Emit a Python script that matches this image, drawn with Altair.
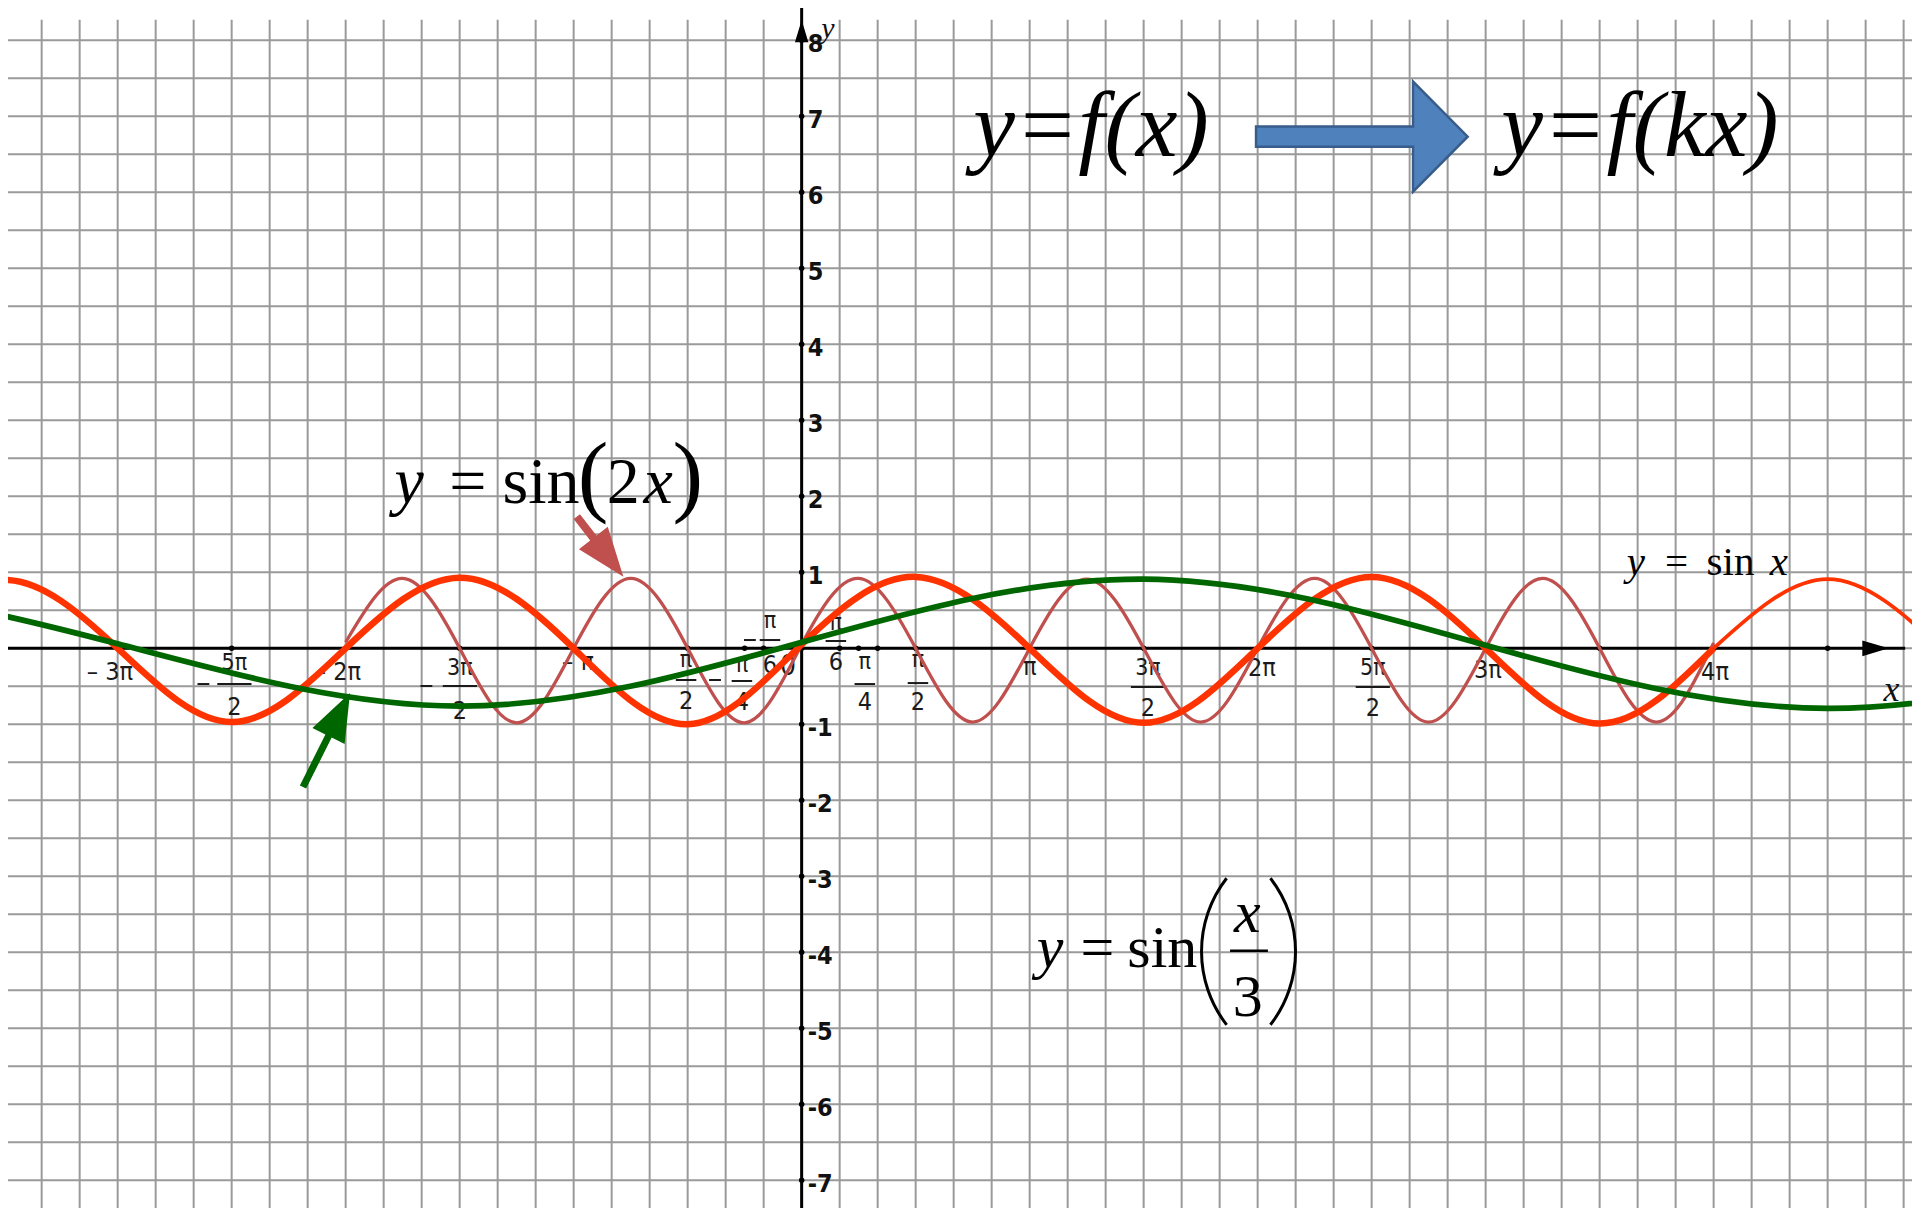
import altair as alt
import pandas as pd

# ---------------- picture frame (x in multiples of pi, y in units) ----------------
X_DOMAIN = [-3.481, 4.870]
Y_DOMAIN = [-7.364, 8.425]
W, H = 1904, 1200

# ---------------- curves ----------------
# y = sin x  (thick up to 4pi, thin after)
sinx_x = [-4, -3.5, -3, -2.5, -2, -1.5, -1, -0.5, 0, 0.5, 1, 1.5, 2, 2.5, 3, 3.5, 4]
sinx_y = [0.0, 0.90, 0.0, -0.97, 0.0, 0.93, 0.0, -1.00, 0.05, 0.94, 0.0, -0.98, 0.0, 0.94, 0.0, -0.99, 0.0]
sinx_tail_x = [4, 4.5, 5]
sinx_tail_y = [0.0, 0.91, 0.0]

# y = sin(2x)  (drawn from -2pi to 4pi)
sin2x_x = [-2, -1.75, -1.5, -1.25, -1, -0.75, -0.5, -0.25, 0, 0.25, 0.5, 0.75, 1,
           1.25, 1.5, 1.75, 2, 2.25, 2.5, 2.75, 3, 3.25, 3.5, 3.75, 4]
sin2x_y = [0.08, 0.92, 0.0, -0.98, 0.0, 0.92, 0.0, -0.98, 0.05, 0.92, 0.0, -0.97, 0.0,
           0.91, 0.0, -0.97, 0.0, 0.92, 0.0, -0.97, 0.0, 0.92, 0.0, -0.97, 0.07]

# y = sin(x/3)
sinx3_x = [-6, -4.5, -3, -1.5, 0, 1.5, 3, 4.5, 6]
sinx3_y = [0.0, 0.80, 0.06, -0.76, 0.08, 0.91, 0.04, -0.79, 0.0]

# ---------------- axis ticks and labels ----------------
y_ticks = [-7, -6, -5, -4, -3, -2, -1, 1, 2, 3, 4, 5, 6, 7, 8]
y_tick_text = [str(v) for v in y_ticks]

x_tick_dots = [-3, -2.5, -2, -1.5, -1, -0.5, -0.25, -1/6, 0, 1/6, 0.25, 1/3, 0.5,
               1, 1.5, 2, 2.5, 3, 3.5, 4, 4.5]

simple_text = ["– 3π", "– 2π", "– π", "π", "2π", "3π", "4π"]
simple_lx = [-3.034, -2.034, -0.981, 1.001, 2.019, 3.010, 4.006]
simple_ly = [-0.307, -0.307, -0.176, -0.241, -0.259, -0.286, -0.307]

frac_num = ["5π", "3π", "π", "π", "π", "π", "3π", "5π", "π", "π"]
frac_den = ["2", "2", "2", "4", "4", "2", "2", "2", "6", "6"]
frac_lx = [-2.488, -1.499, -0.507, -0.262, 0.277, 0.510, 1.519, 2.505, -0.139, 0.150]
frac_num_y = [-0.193, -0.259, -0.154, -0.220, -0.180, -0.154, -0.259, -0.259, 0.359, 0.333]
frac_bar_y = [-0.470, -0.496, -0.417, -0.430, -0.470, -0.457, -0.509, -0.509, 0.109, 0.096]
frac_den_y = [-0.772, -0.825, -0.693, -0.707, -0.707, -0.707, -0.786, -0.786, -0.220, -0.180]
minus_lx = [-2.624, -1.646, -0.380, -0.227]
minus_ly = [-0.470, -0.496, -0.417, 0.109]

# ---------------- formula annotations (data units) ----------------
upright_txt = ["=", "sin", "(", "2", ")", "=", "sin", "=", "sin", "3"]
upright_x = [-1.464, -1.143, -0.915, -0.782, -0.499, 3.837, 4.074, 1.297, 1.582, 1.957]
upright_y = [1.912, 1.912, 1.886, 1.912, 1.886, 0.964, 0.964, -4.19, -4.19, -4.84]
upright_s = [66, 66, 92, 66, 92, 41, 41, 60, 60, 60]

italic_txt = ["y", "x", "y", "x", "y", "x", "y=f(x)", "y=f(kx)"]
italic_x = [-1.722, -0.630, 3.659, 4.286, 1.089, 1.955, 1.269, 3.677]
italic_y = [1.912, 1.912, 0.964, 0.964, -4.19, -3.726, 6.48, 6.48]
italic_s = [66, 66, 41, 41, 60, 60, 94, 94]

XS = alt.Scale(domain=X_DOMAIN, nice=False, zero=False)
YS = alt.Scale(domain=Y_DOMAIN, nice=False, zero=False)


def pos(xf="x", yf="y"):
    return dict(x=alt.X(f"{xf}:Q", scale=XS, axis=None),
                y=alt.Y(f"{yf}:Q", scale=YS, axis=None))


layers = []

# grid
grid_v = pd.DataFrame({"x": [k / 6 for k in range(-20, 30)]})
grid_v["y"] = 8.27
grid_v["y2"] = Y_DOMAIN[0]
layers.append(alt.Chart(grid_v).mark_rule(color="#9a9a9a", strokeWidth=2).encode(
    **pos(), y2="y2:Q"))
grid_h = pd.DataFrame({"y": [k / 2 for k in range(-14, 17)]})
grid_h["x"] = X_DOMAIN[0]
grid_h["x2"] = X_DOMAIN[1]
layers.append(alt.Chart(grid_h).mark_rule(color="#9a9a9a", strokeWidth=2).encode(
    **pos(), x2="x2:Q"))

# axes
axis_x = pd.DataFrame({"x": [X_DOMAIN[0]], "x2": [4.84], "y": [0.0]})
layers.append(alt.Chart(axis_x).mark_rule(color="black", strokeWidth=3).encode(**pos(), x2="x2:Q"))
axis_y = pd.DataFrame({"x": [0.0], "y": [Y_DOMAIN[0]], "y2": [Y_DOMAIN[1]]})
layers.append(alt.Chart(axis_y).mark_rule(color="black", strokeWidth=3).encode(**pos(), y2="y2:Q"))

# axis arrow heads
layers.append(alt.Chart(pd.DataFrame({"x": [4.71], "y": [0.0]})).mark_point(
    shape="M-1,-0.6L1,0L-1,0.6Z", size=700, filled=True, color="black", opacity=1).encode(**pos()))
layers.append(alt.Chart(pd.DataFrame({"x": [0.0], "y": [8.12]})).mark_point(
    shape="M-0.6,1L0,-1L0.6,1Z", size=500, filled=True, color="black", opacity=1).encode(**pos()))

# tick dots
layers.append(alt.Chart(pd.DataFrame({"x": x_tick_dots, "y": 0.0})).mark_point(
    shape="circle", size=30, filled=True, color="black", opacity=1).encode(**pos()))
layers.append(alt.Chart(pd.DataFrame({"x": 0.0, "y": y_ticks})).mark_point(
    shape="circle", size=30, filled=True, color="black", opacity=1).encode(**pos()))

TICK_FONT = "Liberation Sans Narrow, DejaVu Sans Condensed, Arial Narrow, sans-serif"

# y tick labels
layers.append(alt.Chart(pd.DataFrame({"x": 0.0, "y": y_ticks, "t": y_tick_text})).mark_text(
    font=TICK_FONT, fontSize=25, fontWeight="bold", align="left", baseline="middle",
    dx=6, dy=4, color="#111111").encode(**pos(), text="t:N"))
# axis names
layers.append(alt.Chart(pd.DataFrame({"x": [0.115], "y": [8.15], "t": ["y"]})).mark_text(
    font="Liberation Serif", fontStyle="italic", fontSize=30, align="center", baseline="middle",
    color="#111111").encode(**pos(), text="t:N"))
layers.append(alt.Chart(pd.DataFrame({"x": [4.78], "y": [-0.55], "t": ["x"]})).mark_text(
    font="Liberation Serif", fontStyle="italic", fontSize=36, align="center", baseline="middle",
    color="#111111").encode(**pos(), text="t:N"))

# x tick labels (simple)
layers.append(alt.Chart(pd.DataFrame({"x": simple_lx, "y": simple_ly, "t": simple_text})).mark_text(
    font=TICK_FONT, fontSize=25, align="center", baseline="middle", color="#1a1a1a").encode(
    **pos(), text="t:N"))
# fraction labels
frac = pd.DataFrame({"x": frac_lx, "ny": frac_num_y, "by": frac_bar_y, "dy_": frac_den_y,
                     "num": frac_num, "den": frac_den})
frac["hw"] = [0.075 if len(n) > 1 else 0.045 for n in frac_num]
frac["x1"] = frac["x"] - frac["hw"]
frac["x2"] = frac["x"] + frac["hw"]
layers.append(alt.Chart(frac).mark_text(
    font=TICK_FONT, fontSize=23, align="center", baseline="middle", color="#1a1a1a").encode(
    **pos("x", "ny"), text="num:N"))
layers.append(alt.Chart(frac).mark_text(
    font=TICK_FONT, fontSize=25, align="center", baseline="middle", color="#1a1a1a").encode(
    **pos("x", "dy_"), text="den:N"))
layers.append(alt.Chart(frac).mark_rule(color="#1a1a1a", strokeWidth=2).encode(
    **pos("x1", "by"), x2="x2:Q"))
mins = pd.DataFrame({"x": minus_lx, "y": minus_ly})
mins["x1"] = mins["x"] - 0.026
mins["x2"] = mins["x"] + 0.026
layers.append(alt.Chart(mins).mark_rule(color="#1a1a1a", strokeWidth=2).encode(
    **pos("x1", "y"), x2="x2:Q"))
layers.append(alt.Chart(pd.DataFrame({"x": [-0.060], "y": [-0.24], "t": ["0"]})).mark_text(
    font=TICK_FONT, fontSize=28, align="center", baseline="middle", color="#1a1a1a").encode(
    **pos(), text="t:N"))

# curves
layers.append(alt.Chart(pd.DataFrame({"x": sin2x_x, "y": sin2x_y})).mark_line(
    interpolate="natural", color="#C0504D", strokeWidth=3.3, clip=True).encode(**pos()))
layers.append(alt.Chart(pd.DataFrame({"x": sinx_x, "y": sinx_y})).mark_line(
    interpolate="natural", color="#FF3300", strokeWidth=6.5, clip=True).encode(**pos()))
layers.append(alt.Chart(pd.DataFrame({"x": sinx_tail_x, "y": sinx_tail_y})).mark_line(
    interpolate="natural", color="#FF3300", strokeWidth=3.8, clip=True).encode(**pos()))
layers.append(alt.Chart(pd.DataFrame({"x": sinx3_x, "y": sinx3_y})).mark_line(
    interpolate="natural", color="#006600", strokeWidth=5.7, clip=True).encode(**pos()))

# formula texts
layers.append(alt.Chart(pd.DataFrame({"x": upright_x, "y": upright_y, "t": upright_txt,
                                      "s": upright_s})).mark_text(
    font="Liberation Serif", align="center", baseline="alphabetic", color="black").encode(
    **pos(), text="t:N", size=alt.Size("s:Q", scale=None)))
layers.append(alt.Chart(pd.DataFrame({"x": italic_x, "y": italic_y, "t": italic_txt,
                                      "s": italic_s})).mark_text(
    font="Liberation Serif", fontStyle="italic", align="center", baseline="alphabetic",
    color="black").encode(**pos(), text="t:N", size=alt.Size("s:Q", scale=None)))
# fraction bar of x/3
layers.append(alt.Chart(pd.DataFrame({"x": [1.879], "x2": [2.045], "y": [-3.979]})).mark_rule(
    color="black", strokeWidth=2.5).encode(**pos(), x2="x2:Q"))
# big parentheses around x/3
layers.append(alt.Chart(pd.DataFrame({"x": [2.278], "y": [-3.989]})).mark_arc(
    radius=121, radius2=118, theta=4.712 - 0.66, theta2=4.712 + 0.66, color="black").encode(**pos()))
layers.append(alt.Chart(pd.DataFrame({"x": [1.642], "y": [-3.989]})).mark_arc(
    radius=121, radius2=118, theta=1.571 - 0.66, theta2=1.571 + 0.66, color="black").encode(**pos()))

# arrows
layers.append(alt.Chart(pd.DataFrame({"x": [2.457], "y": [6.732]})).mark_point(
    shape="M-1,-0.095L0.484,-0.095L0.484,-0.52L1,0L0.484,0.52L0.484,0.095L-1,0.095Z",
    size=44774, filled=True, fill="#4F81BD", stroke="#385D8A", strokeWidth=2.5, opacity=1).encode(**pos()))
layers.append(alt.Chart(pd.DataFrame({"x": [-2.084], "y": [-1.207]})).mark_point(
    shape="M-1,-0.067L0.086,-0.067L0.086,-0.343L1,0L0.086,0.343L0.086,0.067L-1,0.067Z",
    size=11025, angle=296.6, filled=True, color="#006600", opacity=1).encode(**pos()))
layers.append(alt.Chart(pd.DataFrame({"x": [-0.884], "y": [1.337]})).mark_point(
    shape="M-1,-0.105L-0.29,-0.105L-0.29,-0.48L1,0L-0.29,0.48L-0.29,0.105L-1,0.105Z",
    size=5776, angle=52.2, filled=True, color="#C0504D", opacity=1).encode(**pos()))

chart = alt.layer(*layers).properties(
    width=W, height=H, padding=0,
    autosize=alt.AutoSizeParams(type="none"),
    background="white",
).configure_view(stroke=None)

chart.save("out.html", embed_options={"renderer": "svg", "actions": False})
